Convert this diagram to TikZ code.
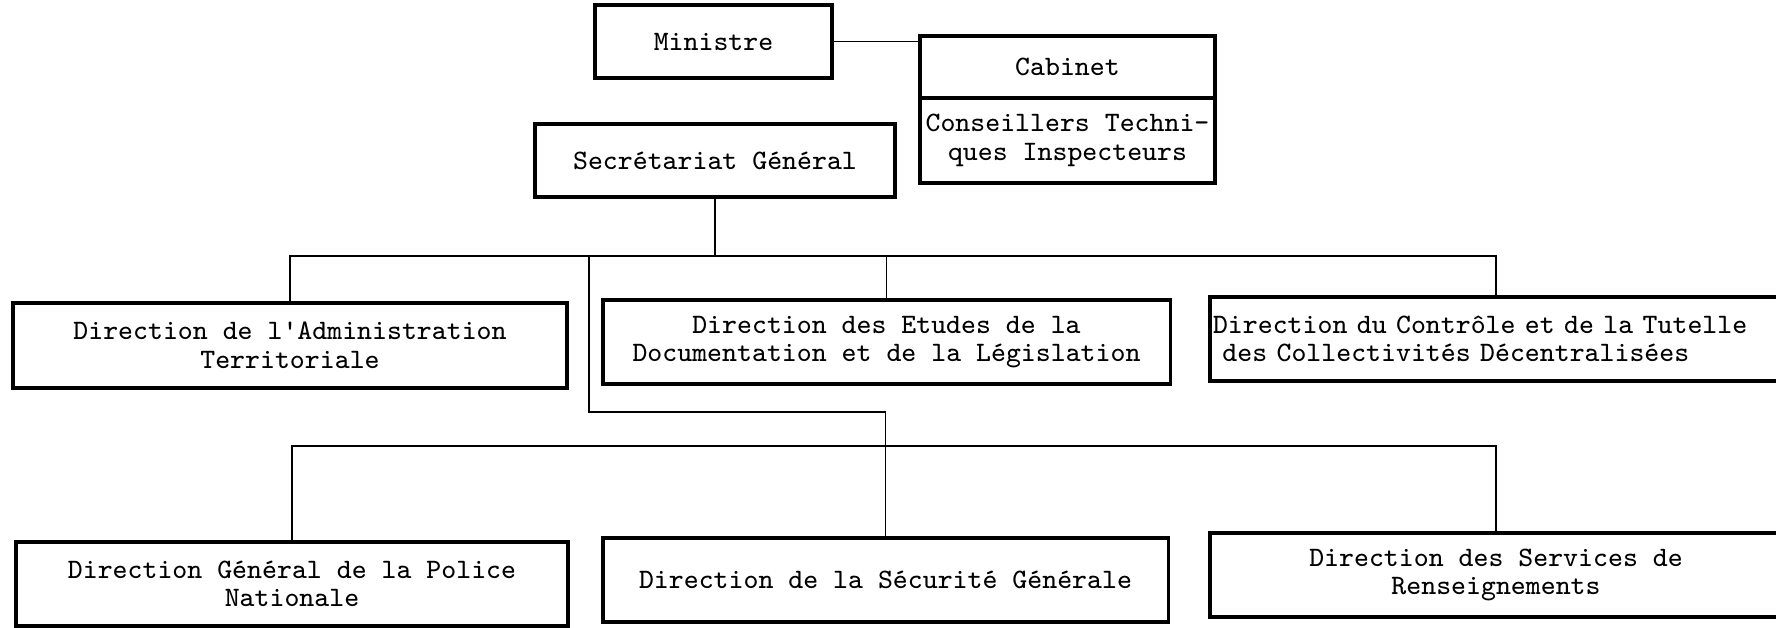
\documentclass[tikz,border=0pt]{standalone}
\usetikzlibrary{positioning}

\begin{document}
\begin{tikzpicture}[x=0.01cm, y=-0.01cm,
    unit/.style={draw, rectangle, line width=0.95pt, outer sep=0pt, inner sep=1pt,
        align=center, font=\ttfamily\fontsize{8}{8.1}\selectfont},
    link/.style={line width=0.5pt}]
    \useasboundingbox (0,0) rectangle (1776,628);
    \clip (0,0) rectangle (1776,628);
    % Top level
    \node[unit, minimum width=2.37cm, minimum height=0.73cm] (minister) at (713.5,41.5) {Ministre};
    \node[unit, minimum width=2.95cm, minimum height=0.62cm] (cabinet) at (1067.5,67) {Cabinet};
    \node[unit, minimum width=2.95cm, minimum height=0.85cm, below=0pt of cabinet] (advisers) {Conseillers Techni-\\ques Inspecteurs};
    \node[unit, minimum width=3.6cm, minimum height=0.73cm] (secretariat) at (715,160.5) {Secrétariat Général};
    % Directions, first row
    \node[unit, minimum width=5.54cm, minimum height=0.85cm] (admin) at (290,345.5) {Direction de l\textquotesingle Administration\\Territoriale};
    \node[unit, minimum width=5.67cm, minimum height=0.84cm] (studies) at (886.5,342) {Direction des Etudes de la\\Documentation et de la Législation};
    \node[unit, anchor=west, text width=5.66cm, inner xsep=0.03cm, align=left, minimum height=0.84cm] (control) at (1210,339) {Direction du Contrôle et de la Tutelle\\~des Collectivités Décentralisées};
    % Directions, second row
    \node[unit, minimum width=5.52cm, minimum height=0.84cm] (police) at (292,584) {Direction Général de la Police\\Nationale};
    \node[unit, minimum width=5.65cm, minimum height=0.84cm] (security) at (885.5,580) {Direction de la Sécurité Générale};
    \node[unit, minimum width=5.72cm, minimum height=0.84cm] (intel) at (1496,575) {Direction des Services de\\Renseignements};
    % Connectors
    \coordinate (bus1) at (715,256);
    \coordinate (branch) at (589,412);
    \coordinate (bus2) at (885.5,446);
    \draw[link] (minister.east) -- (minister.east -| cabinet.west);
    \draw[link] (secretariat.south) -- (bus1);
    \draw[link] (admin.north) |- (bus1) -| (control.north);
    \draw[link] (studies.north) -- (studies.north |- bus1);
    \draw[link] (branch |- bus1) -- (branch) -| (security.north);
    \draw[link] (police.north) |- (bus2) -| (intel.north);
\end{tikzpicture}
\end{document}
